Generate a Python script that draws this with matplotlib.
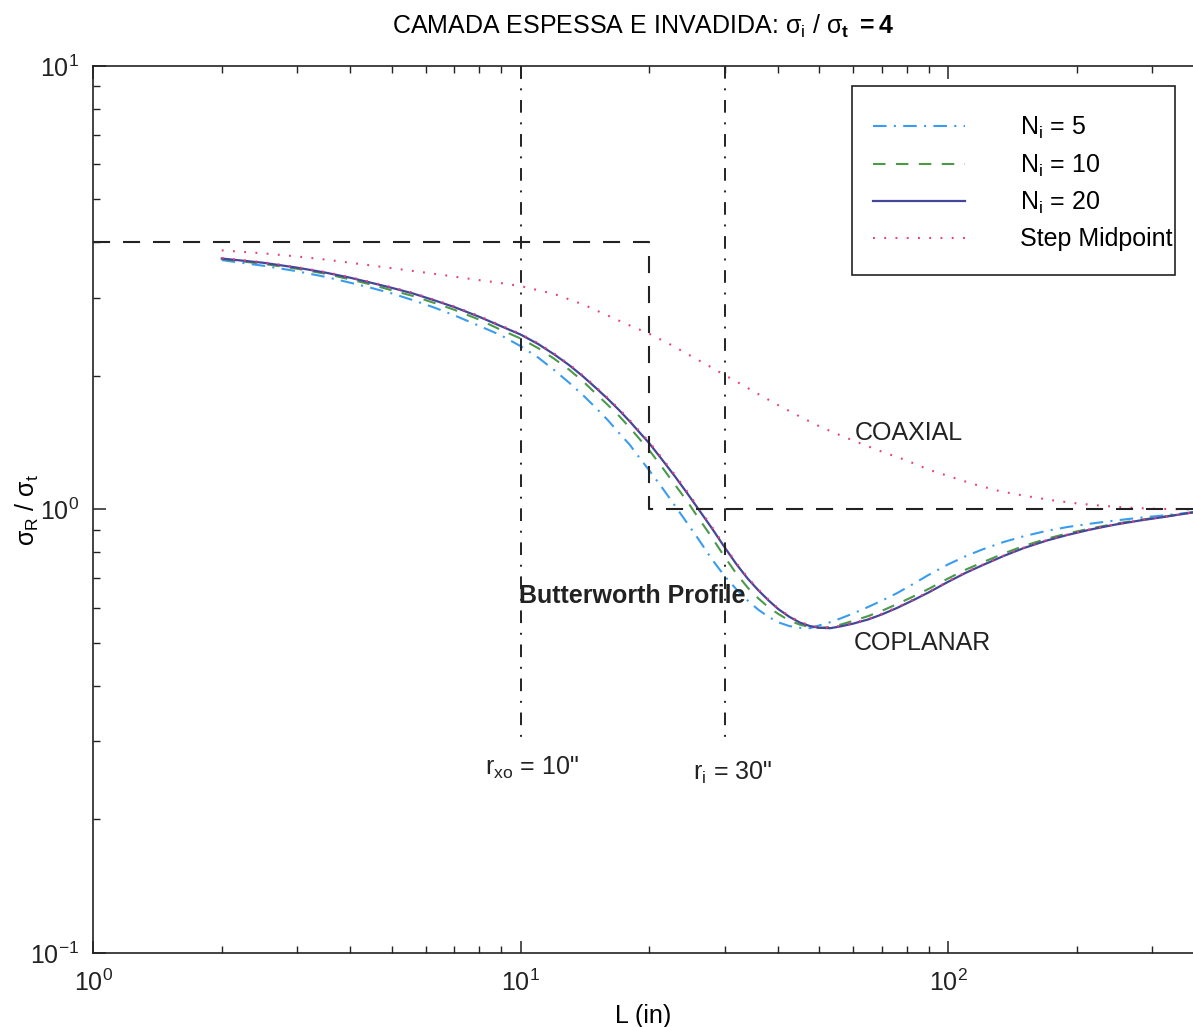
import matplotlib
matplotlib.use('Agg')
import matplotlib.pyplot as plt
from matplotlib.patches import Rectangle

plt.rcParams['font.family'] = ['Liberation Sans', 'DejaVu Sans']
plt.rcParams['mathtext.fontset'] = 'custom'
plt.rcParams['mathtext.rm'] = 'Liberation Sans'
plt.rcParams['mathtext.it'] = 'Liberation Sans:italic'
plt.rcParams['mathtext.bf'] = 'Liberation Sans:bold'

# --- data ---
L_model = [2, 2.5, 3, 3.5, 4, 4.5, 5, 5.6, 6.3, 7, 8, 9, 10, 11, 12, 13, 14, 15, 16, 17,
           18, 19, 20, 21.5, 23, 24.5, 26, 28, 30, 32, 34, 36, 38, 40, 42.5, 45, 47.5, 50,
           53, 56, 60, 65, 70, 76, 83, 90, 100, 110, 120, 135, 150, 170, 190, 215, 245,
           280, 320, 374]

ni20 = [3.68, 3.60, 3.51, 3.42, 3.33, 3.24, 3.16, 3.07, 2.96, 2.86, 2.72, 2.59, 2.48, 2.36,
        2.235, 2.115, 1.995, 1.88, 1.775, 1.675, 1.58, 1.49, 1.41, 1.29, 1.185, 1.09, 1.005,
        0.908, 0.822, 0.752, 0.698, 0.657, 0.624, 0.597, 0.573, 0.556, 0.546, 0.541, 0.540,
        0.545, 0.553, 0.565, 0.580, 0.600, 0.625, 0.650, 0.687, 0.720, 0.748, 0.786, 0.818,
        0.851, 0.876, 0.901, 0.924, 0.944, 0.962, 0.985]

ni10 = [3.67, 3.58, 3.49, 3.40, 3.30, 3.21, 3.12, 3.03, 2.92, 2.82, 2.68, 2.54, 2.43, 2.31,
        2.185, 2.065, 1.945, 1.825, 1.72, 1.625, 1.53, 1.44, 1.36, 1.24, 1.135, 1.045, 0.96,
        0.866, 0.782, 0.716, 0.666, 0.630, 0.602, 0.582, 0.562, 0.550, 0.543, 0.541, 0.543,
        0.550, 0.561, 0.575, 0.591, 0.612, 0.637, 0.662, 0.699, 0.732, 0.759, 0.796, 0.827,
        0.859, 0.883, 0.906, 0.928, 0.947, 0.964, 0.985]

ni5 = [3.65, 3.545, 3.445, 3.345, 3.245, 3.155, 3.07, 2.965, 2.85, 2.74, 2.595, 2.47, 2.335,
       2.20, 2.06, 1.93, 1.81, 1.695, 1.59, 1.487, 1.40, 1.305, 1.225, 1.115, 1.018, 0.933,
       0.86, 0.773, 0.708, 0.66, 0.623, 0.594, 0.573, 0.557, 0.546, 0.541, 0.540, 0.548,
       0.557, 0.568, 0.583, 0.603, 0.623, 0.648, 0.680, 0.712, 0.752, 0.785, 0.812, 0.845,
       0.870, 0.895, 0.913, 0.929, 0.944, 0.958, 0.970, 0.986]

mid_coplanar = [3.69, 3.61, 3.52, 3.43, 3.34, 3.25, 3.17, 3.08, 2.97, 2.87, 2.73, 2.60, 2.49,
                2.37, 2.245, 2.125, 2.005, 1.89, 1.785, 1.685, 1.59, 1.50, 1.42, 1.30, 1.195,
                1.10, 1.013, 0.915, 0.828, 0.757, 0.702, 0.660, 0.627, 0.599, 0.575, 0.558,
                0.548, 0.543, 0.542, 0.547, 0.555, 0.567, 0.582, 0.602, 0.627, 0.652, 0.689,
                0.722, 0.750, 0.788, 0.820, 0.853, 0.878, 0.903, 0.925, 0.945, 0.963, 0.985]

L_coax = [2, 2.5, 3, 3.5, 4, 5, 6, 7, 8, 9, 10, 12, 14, 16.5, 18, 20, 22.5, 25, 27.5, 30,
          33, 36, 40, 45, 50, 55, 60, 70, 80, 90, 100, 115, 132, 150, 174, 200, 228, 260,
          300, 374]
mid_coaxial = [3.84, 3.78, 3.72, 3.66, 3.60, 3.50, 3.42, 3.35, 3.29, 3.24, 3.19, 3.06, 2.90,
               2.70, 2.60, 2.49, 2.35, 2.22, 2.11, 2.01, 1.91, 1.82, 1.72, 1.62, 1.54, 1.48,
               1.43, 1.35, 1.29, 1.23, 1.19, 1.14, 1.10, 1.075, 1.05, 1.032, 1.02, 1.01,
               1.004, 1.0]

# step profile sigma/sigma_t and marker radii
step_L = [1.0, 20.0, 20.0, 374]
step_s = [4.0, 4.0, 1.0, 1.0]
r_xo = 10
r_i = 30

fs = 18
fig = plt.figure(figsize=(11.93, 10.27), dpi=100)
ax = fig.add_axes([0.078, 0.07205, 0.92205, 0.8637])
ax.set_xscale('log')
ax.set_yscale('log')

ax.plot(L_model, ni5, color='#3a9cf0', lw=1.5, dashes=(6.5, 3.5, 1, 3.5), label=r'$\mathregular{N_i}$ = 5')
ax.plot(L_model, ni10, color='#4b9a48', lw=1.5, dashes=(6, 5), label=r'$\mathregular{N_i}$ = 10')
ax.plot(L_model, ni20, color='#45459a', lw=1.6, label=r'$\mathregular{N_i}$ = 20')
ax.plot(L_coax, mid_coaxial, color='#e8407e', lw=1.5, dashes=(0.9, 4.5), label='Step Midpoint')
ax.plot(L_model, mid_coplanar, color='#e8407e', lw=1.5, dashes=(0.9, 4.5))

ax.plot(step_L, step_s, color='#222222', lw=1.5, dashes=(8.2, 6.2))
for r in (r_xo, r_i):
    ax.plot([r, r], [10, 0.3], color='#222222', lw=1.4, dashes=(6.5, 5, 1, 5))

ax.text(9.92, 0.637, 'Butterworth Profile', fontsize=fs, fontweight='bold', va='center', color='#222222')
ax.text(60.6, 1.49, 'COAXIAL', fontsize=fs, va='center', color='#222222')
ax.text(60.0, 0.50, 'COPLANAR', fontsize=fs, va='center', color='#222222')
ax.text(8.26, 0.262, r'$\mathregular{r_{xo}}$ = 10"', fontsize=fs, va='center', color='#222222')
ax.text(25.3, 0.255, r'$\mathregular{r_i}$ = 30"', fontsize=fs, va='center', color='#222222')

ax.set_xlim(1, 374)
ax.set_ylim(0.1, 10)
ax.spines['right'].set_visible(False)
for s in ('left', 'top', 'bottom'):
    ax.spines[s].set_linewidth(1.2)
    ax.spines[s].set_color('#222222')
ax.tick_params(which='both', direction='in', top=True, right=False, labelsize=fs, colors='#222222')
ax.tick_params(which='major', length=9, width=1.1)
ax.tick_params(which='minor', length=5, width=1.0)
ax.tick_params(axis='x', pad=12)
ax.tick_params(axis='y', pad=10)

ax.set_xlabel('L (in)', fontsize=fs, labelpad=6)
ax.set_ylabel('σ$_\\mathregular{R}$ / σ$_\\mathregular{t}$', fontsize=fs, labelpad=-8)
ax.set_title('CAMADA ESPESSA E INVADIDA: σ$_\\mathregular{i}$ / σ$_\\mathbf{t}$ $\\mathbf{=4}$',
             fontsize=fs, pad=23)

# legend box drawn separately so its padding can follow the original
box = Rectangle((0.690, 0.7644), 0.2936, 0.2131, transform=ax.transAxes,
                facecolor='white', edgecolor='#222222', lw=1.2, zorder=4)
ax.add_patch(box)
leg = ax.legend(loc='upper left', bbox_to_anchor=(0.7091, 0.9448), fontsize=fs,
                handlelength=3.68, handletextpad=2.2, borderpad=0, borderaxespad=0,
                labelspacing=0.45, frameon=False)
leg.set_zorder(5)

plt.savefig('out.png')
